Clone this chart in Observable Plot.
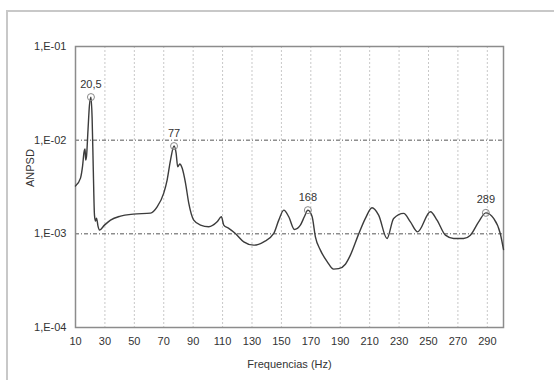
<!DOCTYPE html>
<html>
<head>
<meta charset="utf-8">
<script src="https://cdn.jsdelivr.net/npm/d3@7"></script>
<script src="https://cdn.jsdelivr.net/npm/@observablehq/plot@0.6"></script>
<style>
  html, body { margin: 0; padding: 0; background: #fff; }
  #chart { position: relative; width: 554px; height: 380px; }
</style>
</head>
<body>
<div id="chart"></div>
<script>
const freq = [10.0, 13.4, 14.8, 15.8, 16.5, 16.9, 17.5, 18.5, 19.5, 20.5, 21.3, 22.1, 22.9, 23.6, 24.3, 25.3, 26.3, 29.7, 33.8, 40.6, 49.4, 61.0, 65.5, 70.0, 72.3, 74.6, 77.0, 78.4, 79.5, 80.9, 82.5, 84.8, 87.0, 90.4, 95.0, 100.6, 106.3, 109.2, 110.8, 114.2, 118.7, 124.4, 131.2, 138.0, 144.8, 148.2, 151.6, 155.0, 158.8, 162.9, 165.6, 168.0, 170.9, 173.1, 176.5, 181.1, 185.5, 188.9, 193.5, 196.9, 202.5, 207.1, 211.6, 216.1, 221.8, 226.3, 233.1, 237.7, 242.6, 251.3, 255.8, 261.5, 267.1, 273.9, 278.5, 284.1, 289.0, 294.3, 298.8, 301.0];
const anpsd = [0.003236, 0.003936, 0.005284, 0.007464, 0.008035, 0.006124, 0.006761, 0.01282, 0.02371, 0.02884, 0.01722, 0.004797, 0.001585, 0.001368, 0.001472, 0.001208, 0.001096, 0.001239, 0.001403, 0.001545, 0.001622, 0.001663, 0.001941, 0.002723, 0.003750, 0.006124, 0.008650, 0.007278, 0.005200, 0.005559, 0.005035, 0.003483, 0.002128, 0.001400, 0.001239, 0.001189, 0.001343, 0.001521, 0.001239, 0.001143, 0.001009, 0.000822, 0.000757, 0.000822, 0.001009, 0.001400, 0.001791, 0.001521, 0.001114, 0.001239, 0.001521, 0.001791, 0.001521, 0.000929, 0.000670, 0.000505, 0.000420, 0.000425, 0.000474, 0.000592, 0.000993, 0.001462, 0.001897, 0.001585, 0.000893, 0.001462, 0.001652, 0.001343, 0.001050, 0.001718, 0.001400, 0.000968, 0.000893, 0.000893, 0.000968, 0.001343, 0.001675, 0.001462, 0.001009, 0.000681];

const peakFreq = [20.5, 77, 168, 289];
const peakValue = [0.02884, 0.008650, 0.001791, 0.001675];
const peakLabel = ["20,5", "77", "168", "289"];

const xTicks = [10, 30, 50, 70, 90, 110, 130, 150, 170, 190, 210, 230, 250, 270, 290];
const xGrid = [30, 50, 70, 90, 110, 130, 150, 170, 190, 210, 230, 250, 270, 290];
const yTicks = [1e-4, 1e-3, 1e-2, 1e-1];
const yTickLabels = ["1,E-04", "1,E-03", "1,E-02", "1,E-01"];
const yGrid = [1e-3, 1e-2];

const series = freq.map((f, i) => ({f, v: anpsd[i]}));
const peaks = peakFreq.map((f, i) => ({f, v: peakValue[i], label: peakLabel[i]}));

const plot = Plot.plot({
  width: 554,
  height: 380,
  marginLeft: 75,
  marginRight: 51,
  marginTop: 46,
  marginBottom: 53,
  style: {fontFamily: "Liberation Sans, Arial, sans-serif", fontSize: "11px", color: "#333", background: "#fff"},
  x: {domain: [10, 301], ticks: xTicks, label: null},
  y: {type: "log", domain: [1e-4, 1e-1], ticks: yTicks, label: null},
  marks: [
    Plot.ruleX(xGrid, {stroke: "#c8c8c8", strokeDasharray: "2,2", strokeWidth: 1}),
    Plot.ruleY(yGrid, {stroke: "#555", strokeDasharray: "4,2,1,2", strokeWidth: 1}),
    Plot.frame({stroke: "#8c8c8c", strokeWidth: 1.5}),
    Plot.axisX({ticks: xTicks, tickSize: 0, tickPadding: 10, tickFormat: d => String(d), fill: "#333", fontSize: 11}),
    Plot.axisY({ticks: yTicks, tickSize: 0, tickPadding: 9, tickFormat: d => yTickLabels[yTicks.indexOf(d)], fill: "#333", fontSize: 11}),
    Plot.line(series, {x: "f", y: "v", stroke: "#3c3c3c", strokeWidth: 1.4, curve: "monotone-x"}),
    Plot.dot(peaks, {x: "f", y: "v", r: 3.5, stroke: "#888", fill: "none", strokeWidth: 1}),
    Plot.text(peaks, {x: "f", y: "v", text: "label", dy: -13, fill: "#333", fontSize: 11}),
    Plot.text(["Frequencias (Hz)"], {frameAnchor: "bottom", dy: 40, fill: "#333", fontSize: 11}),
    Plot.text(["ANPSD"], {frameAnchor: "left", dx: -45, rotate: -90, fill: "#333", fontSize: 11})
  ]
});

document.getElementById("chart").appendChild(plot);

// outer chart-area border (light gray), as in the spreadsheet export
d3.select(plot).insert("rect", ":first-child")
  .attr("x", 7).attr("y", 11).attr("width", 560).attr("height", 380)
  .attr("fill", "none").attr("stroke", "#c8c8c8").attr("stroke-width", 2);
</script>
</body>
</html>
